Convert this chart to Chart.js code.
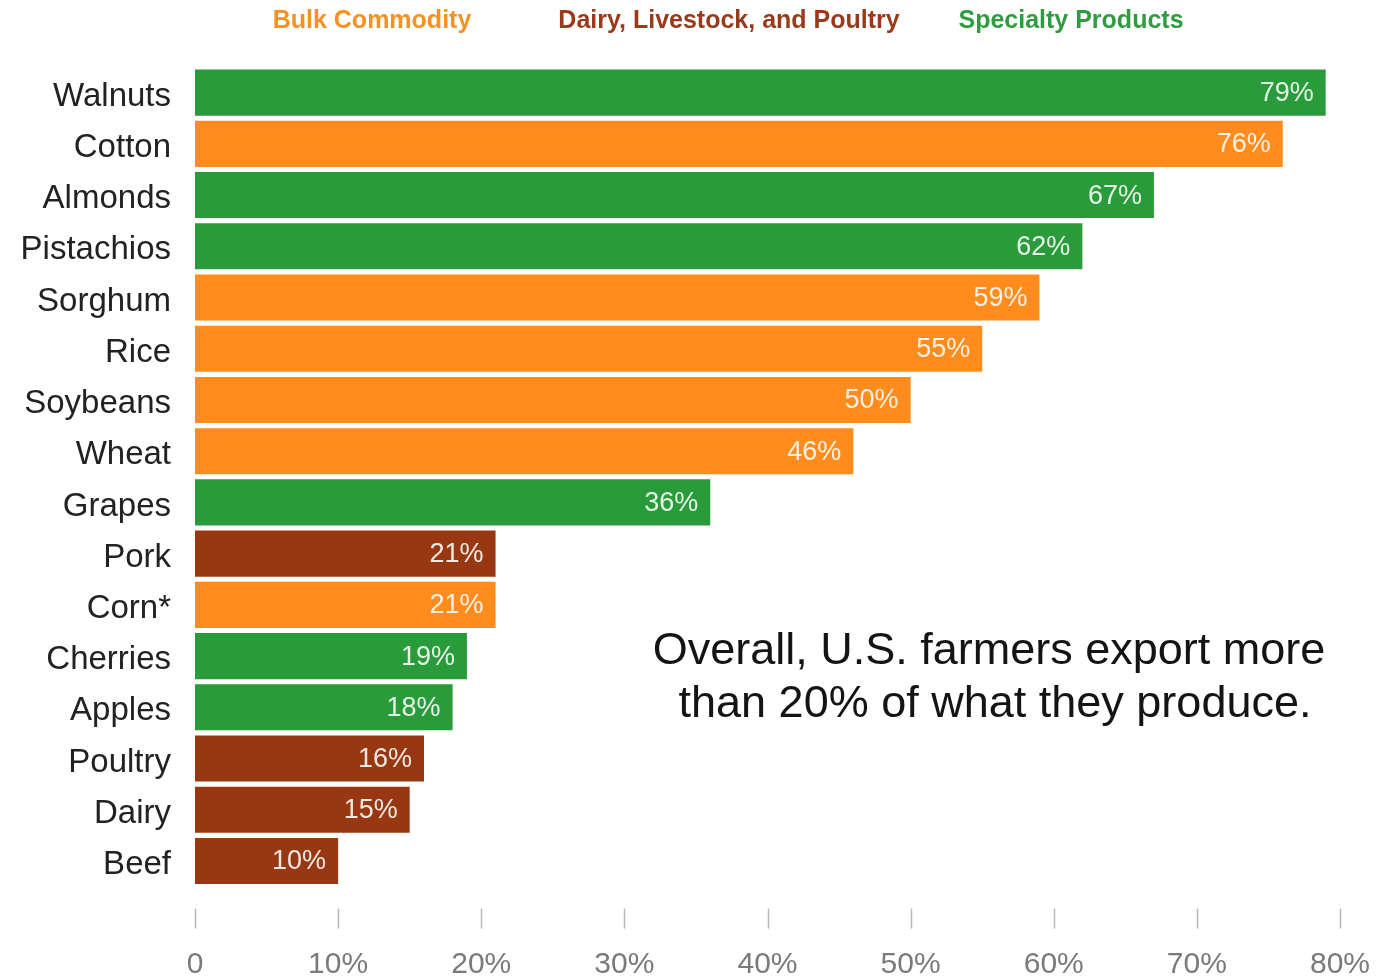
<!DOCTYPE html>
<html>
<head>
<meta charset="utf-8">
<script src="https://cdn.jsdelivr.net/npm/chart.js@4"></script>
<style>
  html, body { margin: 0; padding: 0; background: #fff; }
  #wrap { position: relative; width: 1386px; height: 976px; }
</style>
</head>
<body>
<div id="wrap"><canvas id="barChart" width="1386" height="976"></canvas></div>
<script>
// data
const crops = ['Walnuts', 'Cotton', 'Almonds', 'Pistachios', 'Sorghum', 'Rice', 'Soybeans', 'Wheat',
    'Grapes', 'Pork', 'Corn*', 'Cherries', 'Apples', 'Poultry', 'Dairy', 'Beef'];
const exportShare = [79, 76, 67, 62, 59, 55, 50, 46, 36, 21, 21, 19, 18, 16, 15, 10];
const cropGroup = ['specialty', 'bulk', 'specialty', 'specialty', 'bulk', 'bulk', 'bulk', 'bulk',
    'specialty', 'livestock', 'bulk', 'specialty', 'specialty', 'livestock', 'livestock', 'livestock'];
const groupNames = ['Bulk Commodity', 'Dairy, Livestock, and Poultry', 'Specialty Products'];
const groupKeys = ['bulk', 'livestock', 'specialty'];
const xTicks = [0, 10, 20, 30, 40, 50, 60, 70, 80];
const noteLines = ['Overall, U.S. farmers export more', 'than 20% of what they produce.'];

const barColors = { bulk: '#ff8c1c', livestock: '#983812', specialty: '#2a9b3b' };
const legendColors = { bulk: '#f7911f', livestock: '#9a3a1a', specialty: '#2f9c40' };
const FONT = '"Liberation Sans", Arial, sans-serif';

// percentage labels at the end of each bar
const barLabels = {
    id: 'barLabels',
    afterDatasetsDraw(chart) {
        const ctx = chart.ctx;
        const meta = chart.getDatasetMeta(0);
        ctx.save();
        ctx.font = '27px ' + FONT;
        ctx.fillStyle = 'rgba(255,255,255,0.88)';
        ctx.textAlign = 'right';
        ctx.textBaseline = 'middle';
        meta.data.forEach((bar, i) => {
            ctx.fillText(exportShare[i] + '%', bar.x - 12, bar.y + 1);
        });
        ctx.restore();
    }
};

// short tick marks sitting below the plot, detached from it
const tickMarks = {
    id: 'tickMarks',
    afterDraw(chart) {
        const ctx = chart.ctx;
        const x = chart.scales.x;
        const top = chart.chartArea.bottom + 22;
        ctx.save();
        ctx.strokeStyle = '#b8b8b8';
        ctx.lineWidth = 1.5;
        xTicks.forEach(v => {
            const px = Math.round(x.getPixelForValue(v)) + 0.5;
            ctx.beginPath();
            ctx.moveTo(px, top);
            ctx.lineTo(px, top + 20);
            ctx.stroke();
        });
        ctx.restore();
    }
};

// coloured text legend + note
const extras = {
    id: 'extras',
    afterDraw(chart) {
        const ctx = chart.ctx;
        const legendX = [372, 729, 1071];
        ctx.save();
        ctx.font = 'bold 25px ' + FONT;
        ctx.textAlign = 'center';
        ctx.textBaseline = 'middle';
        groupNames.forEach((name, i) => {
            ctx.fillStyle = legendColors[groupKeys[i]];
            ctx.fillText(name, legendX[i], 21);
        });
        ctx.font = '45px ' + FONT;
        ctx.fillStyle = '#141414';
        ctx.fillText(noteLines[0], 989, 652);
        ctx.fillText(noteLines[1], 995, 705);
        ctx.restore();
    }
};

const ctx = document.getElementById('barChart').getContext('2d');
const chartInstance = new Chart(ctx, {
    type: 'bar',
    data: {
        labels: crops,
        datasets: [{
            data: exportShare,
            backgroundColor: cropGroup.map(g => barColors[g]),
            borderWidth: 0,
            barPercentage: 0.9,
            categoryPercentage: 1.0
        }]
    },
    options: {
        indexAxis: 'y',
        responsive: false,
        animation: false,
        layout: { padding: { top: 67, right: 46, left: 0, bottom: 0 } },
        plugins: {
            legend: { display: false },
            tooltip: { enabled: false }
        },
        scales: {
            x: {
                min: 0,
                max: 80,
                afterBuildTicks: scale => { scale.ticks = xTicks.map(v => ({ value: v })); },
                afterFit: scale => {
                    scale.height = 976 - 886.6;
                    scale.paddingLeft = 0;
                    scale.paddingRight = 0;
                },
                grid: { display: false },
                border: { display: false },
                ticks: {
                    padding: 52,
                    color: '#7a7a7a',
                    font: { family: FONT, size: 30 },
                    maxRotation: 0,
                    callback: v => v === 0 ? '0' : v + '%'
                }
            },
            y: {
                afterFit: scale => { scale.width = 195; },
                grid: { display: false },
                border: { display: false },
                ticks: {
                    padding: 16,
                    labelOffset: 4,
                    color: '#222',
                    font: { family: FONT, size: 33 }
                }
            }
        }
    },
    plugins: [barLabels, tickMarks, extras]
});
</script>
</body>
</html>
